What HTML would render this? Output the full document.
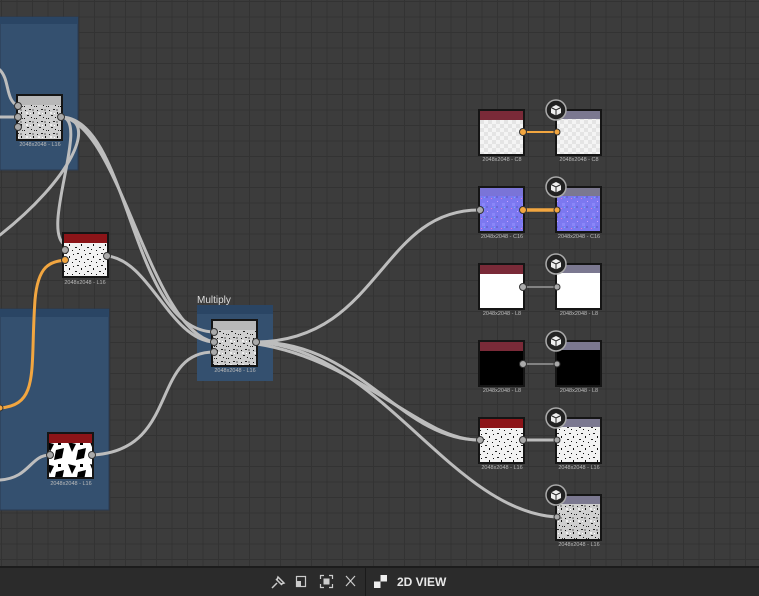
<!DOCTYPE html>
<html><head><meta charset="utf-8"><style>
html,body{margin:0;padding:0;width:759px;height:596px;overflow:hidden;background:#3b3b3b;font-family:"Liberation Sans",sans-serif}
#g{position:absolute;left:0;top:0;width:759px;height:566px;
background-color:#3c3c3c;
background-image:linear-gradient(to right,#333 1px,transparent 1px),linear-gradient(to bottom,#333 1px,transparent 1px);
background-size:15.5px 15.5px;background-position:1px 1px}
#bar{position:absolute;left:0;top:566px;width:759px;height:30px;background:#2b2b2b;border-top:2px solid #1c1c1c;box-sizing:border-box}
</style></head><body>
<div id="g"></div>
<svg width="759" height="566" style="position:absolute;left:0;top:0">
<defs>
<pattern id="noise" width="12" height="12" patternUnits="userSpaceOnUse">
<rect width="12" height="12" fill="#cfcfcf"/>
<rect x="1" y="2" width="1" height="1" fill="#111"/><rect x="5" y="1" width="2" height="1" fill="#222"/>
<rect x="9" y="4" width="1" height="2" fill="#111"/><rect x="3" y="7" width="2" height="1" fill="#222"/>
<rect x="7" y="9" width="1" height="1" fill="#111"/><rect x="10" y="10" width="1" height="1" fill="#333"/>
<rect x="0" y="10" width="1" height="1" fill="#111"/><rect x="6" y="5" width="1" height="1" fill="#fff"/>
<rect x="2" y="4" width="2" height="2" fill="#eee"/><rect x="8" y="1" width="2" height="2" fill="#999"/>
</pattern>
<pattern id="noisew" width="12" height="12" patternUnits="userSpaceOnUse">
<rect width="12" height="12" fill="#f2f2f2"/>
<rect x="1" y="2" width="1" height="1" fill="#111"/><rect x="5" y="1" width="2" height="1" fill="#222"/>
<rect x="9" y="4" width="1" height="2" fill="#111"/><rect x="3" y="7" width="2" height="1" fill="#222"/>
<rect x="7" y="9" width="1" height="1" fill="#111"/><rect x="0" y="10" width="1" height="1" fill="#111"/>
</pattern>
<pattern id="chk" width="8" height="8" patternUnits="userSpaceOnUse">
<rect width="8" height="8" fill="#f4f4f4"/><rect width="4" height="4" fill="#e4e4e4"/><rect x="4" y="4" width="4" height="4" fill="#e4e4e4"/>
</pattern>
<pattern id="nrm" width="10" height="10" patternUnits="userSpaceOnUse">
<rect width="10" height="10" fill="#7c78f0"/><rect x="2" y="3" width="3" height="3" fill="#8a86f8"/>
<rect x="6" y="6" width="2" height="2" fill="#6a66d8"/><rect x="7" y="1" width="1" height="1" fill="#c8a0ff"/>
<rect x="1" y="8" width="1" height="1" fill="#e080d0"/><rect x="4" y="7" width="1" height="1" fill="#60c0ff"/>
</pattern>
<pattern id="bw" width="22" height="22" patternUnits="userSpaceOnUse">
<rect width="22" height="22" fill="#fff"/><polygon points="2,2 10,4 6,12" fill="#000"/><polygon points="12,10 20,8 18,18 10,20" fill="#000"/><rect x="14" y="2" width="3" height="3" fill="#000"/>
</pattern>
</defs>
<!-- frames -->
<rect x="0" y="17" width="78" height="153" fill="#34506f" stroke="#2a3a50"/>
<rect x="0" y="17" width="78" height="7" fill="#2a4564"/>
<rect x="0" y="309" width="109" height="201" fill="#34506f" stroke="#2a3a50"/>
<rect x="0" y="309" width="109" height="8" fill="#2a4564"/>
<rect x="197" y="305" width="76" height="76" fill="#34506f"/>
<rect x="197" y="305" width="76" height="9" fill="#2a4564"/>
<text x="197" y="303" font-size="10" fill="#ddd">Multiply</text>
<!-- connections -->
<g fill="none" stroke="#bdbdbd" stroke-width="3" stroke-linecap="round">
<path d="M0,70 C10,80 5,100 18,106"/>
<path d="M0,117 L18,117"/>
<path d="M62,117 C100,120 70,180 0,235"/>
<path d="M62,117 C90,120 40,230 65,245"/>
<path d="M62,117 C130,120 130,330 214,332"/>
<path d="M62,117 C120,125 150,330 214,342"/>
<path d="M107,256 C150,260 170,340 214,342"/>
<path d="M93,455 C180,450 150,352 214,352"/>
<path d="M0,480 C30,478 30,455 50,455"/>
<path d="M257,342 C380,340 380,210 479,210"/>
<path d="M257,342 C360,342 400,440 479,440"/>
<path d="M257,342 C380,350 450,510 556,517"/>
<path d="M257,344 C360,360 420,440 479,440"/>
<path d="M523,440 L557,440"/>
</g>
<g fill="none" stroke="#999" stroke-width="1.5"><path d="M523,287 L557,287"/><path d="M523,364 L557,364"/></g>
<path d="M0,408 C40,405 30,370 35,300 C38,265 50,262 65,260" fill="none" stroke="#f2a640" stroke-width="3"/>
<path d="M523,132 L557,132" stroke="#f2a640" stroke-width="2"/>
<path d="M523,210 L557,210" stroke="#f2a640" stroke-width="3.5"/>
<!-- nodes -->
<g stroke="#151515" stroke-width="2">
<rect x="17" y="95" width="45" height="45" fill="url(#noise)"/>
<rect x="63" y="233" width="45" height="44" fill="url(#noisew)"/>
<rect x="48" y="433" width="45" height="45" fill="url(#bw)"/>
<rect x="212" y="320" width="45" height="46" fill="url(#noise)"/>
<rect x="479" y="110" width="45" height="45" fill="url(#chk)"/>
<rect x="556" y="110" width="45" height="45" fill="url(#chk)"/>
<rect x="479" y="187" width="45" height="45" fill="url(#nrm)"/>
<rect x="556" y="187" width="45" height="45" fill="url(#nrm)"/>
<rect x="479" y="264" width="45" height="45" fill="#fff"/>
<rect x="556" y="264" width="45" height="45" fill="#fff"/>
<rect x="479" y="341" width="45" height="45" fill="#000"/>
<rect x="556" y="341" width="45" height="45" fill="#000"/>
<rect x="479" y="418" width="45" height="45" fill="url(#noisew)"/>
<rect x="556" y="418" width="45" height="45" fill="url(#noisew)"/>
<rect x="556" y="495" width="45" height="45" fill="url(#noise)"/>
</g>
<g>
<rect x="18" y="96" width="43" height="9" fill="#b8b8b8"/>
<rect x="213" y="321" width="43" height="9" fill="#b8b8b8"/>
<rect x="64" y="234" width="43" height="9" fill="#8c1418"/>
<rect x="49" y="434" width="43" height="9" fill="#8c1418"/>
<rect x="480" y="419" width="43" height="9" fill="#8c1418"/>
<rect x="480" y="111" width="43" height="9" fill="#7a2a38"/>
<rect x="480" y="265" width="43" height="9" fill="#7a2a38"/>
<rect x="480" y="342" width="43" height="9" fill="#7a2a38"/>
<rect x="480" y="188" width="43" height="8" fill="#7a74d8"/>
<rect x="557" y="111" width="43" height="8" fill="#7b7890"/>
<rect x="557" y="188" width="43" height="8" fill="#7b7890"/>
<rect x="557" y="265" width="43" height="8" fill="#7b7890"/>
<rect x="557" y="342" width="43" height="8" fill="#7b7890"/>
<rect x="557" y="419" width="43" height="8" fill="#7b7890"/>
<rect x="557" y="496" width="43" height="8" fill="#7b7890"/>
</g>
<!-- ports -->
<g stroke="#333" stroke-width="1" fill="#aaa">
<circle cx="18" cy="106" r="3.5"/><circle cx="18" cy="117" r="3.5"/><circle cx="18" cy="127" r="3.5"/><circle cx="61" cy="117" r="3.5"/>
<circle cx="65" cy="250" r="3.5"/><circle cx="107" cy="256" r="3.5"/>
<circle cx="50" cy="455" r="3.5"/><circle cx="92" cy="455" r="3.5"/>
<circle cx="214" cy="332" r="3.5"/><circle cx="214" cy="342" r="3.5"/><circle cx="214" cy="352" r="3.5"/><circle cx="256" cy="342" r="3.5"/>
<circle cx="480" cy="210" r="3.5"/><circle cx="523" cy="287" r="3.5"/><circle cx="557" cy="287" r="3"/>
<circle cx="523" cy="364" r="3.5"/><circle cx="557" cy="364" r="3"/>
<circle cx="480" cy="440" r="3.5"/><circle cx="523" cy="440" r="3.5"/><circle cx="557" cy="440" r="3"/>
<circle cx="557" cy="517" r="3"/>
</g>
<g stroke="#333" fill="#f2a640">
<circle cx="65" cy="260" r="3.5"/><circle cx="0" cy="408" r="3"/>
<circle cx="523" cy="132" r="3.5"/><circle cx="557" cy="132" r="3"/>
<circle cx="523" cy="210" r="3.5"/><circle cx="557" cy="210" r="3"/>
</g>
<!-- cube icons -->
<g id="cubes">
<g transform="translate(556,110)"><circle r="10" fill="#222" stroke="#aaa" stroke-width="1.5"/><path d="M0,-5 L5,-2.5 L5,3 L0,5.5 L-5,3 L-5,-2.5Z" fill="#eee"/><path d="M-5,-2.5 L0,0 L5,-2.5 M0,0 L0,5.5" stroke="#222" fill="none"/></g>
<g transform="translate(556,187)"><circle r="10" fill="#222" stroke="#aaa" stroke-width="1.5"/><path d="M0,-5 L5,-2.5 L5,3 L0,5.5 L-5,3 L-5,-2.5Z" fill="#eee"/><path d="M-5,-2.5 L0,0 L5,-2.5 M0,0 L0,5.5" stroke="#222" fill="none"/></g>
<g transform="translate(556,264)"><circle r="10" fill="#222" stroke="#aaa" stroke-width="1.5"/><path d="M0,-5 L5,-2.5 L5,3 L0,5.5 L-5,3 L-5,-2.5Z" fill="#eee"/><path d="M-5,-2.5 L0,0 L5,-2.5 M0,0 L0,5.5" stroke="#222" fill="none"/></g>
<g transform="translate(556,341)"><circle r="10" fill="#222" stroke="#aaa" stroke-width="1.5"/><path d="M0,-5 L5,-2.5 L5,3 L0,5.5 L-5,3 L-5,-2.5Z" fill="#eee"/><path d="M-5,-2.5 L0,0 L5,-2.5 M0,0 L0,5.5" stroke="#222" fill="none"/></g>
<g transform="translate(556,418)"><circle r="10" fill="#222" stroke="#aaa" stroke-width="1.5"/><path d="M0,-5 L5,-2.5 L5,3 L0,5.5 L-5,3 L-5,-2.5Z" fill="#eee"/><path d="M-5,-2.5 L0,0 L5,-2.5 M0,0 L0,5.5" stroke="#222" fill="none"/></g>
<g transform="translate(556,495)"><circle r="10" fill="#222" stroke="#aaa" stroke-width="1.5"/><path d="M0,-5 L5,-2.5 L5,3 L0,5.5 L-5,3 L-5,-2.5Z" fill="#eee"/><path d="M-5,-2.5 L0,0 L5,-2.5 M0,0 L0,5.5" stroke="#222" fill="none"/></g>
</g>
<!-- labels -->
<g font-size="5.5" fill="#bbb" text-anchor="middle">
<text x="40" y="146">2048x2048 - L16</text>
<text x="85" y="284">2048x2048 - L16</text>
<text x="71" y="485">2048x2048 - L16</text>
<text x="235" y="372">2048x2048 - L16</text>
<text x="502" y="161">2048x2048 - C8</text><text x="579" y="161">2048x2048 - C8</text>
<text x="502" y="238">2048x2048 - C16</text><text x="579" y="238">2048x2048 - C16</text>
<text x="502" y="315">2048x2048 - L8</text><text x="579" y="315">2048x2048 - L8</text>
<text x="502" y="392">2048x2048 - L8</text><text x="579" y="392">2048x2048 - L8</text>
<text x="502" y="469">2048x2048 - L16</text><text x="579" y="469">2048x2048 - L16</text>
<text x="579" y="546">2048x2048 - L16</text>
</g>
</svg>
<div id="bar">
<svg width="759" height="28" style="position:absolute;left:0;top:0">
<g fill="#ccc" stroke="#ccc">
<path d="M272,20 L277,15 M276,11 L282,17 M278,9 L284,15 L281,16 L277,12Z" stroke-width="1.5" fill="none"/>
<rect x="296.5" y="8.5" width="9" height="10" fill="none" stroke-width="1.2"/><rect x="297" y="13" width="4" height="5" stroke="none"/>
<path d="M320.5,11 V7.5 H324 M329,7.5 H332.5 V11 M332.5,16 V19.5 H329 M324,19.5 H320.5 V16" fill="none" stroke-width="1.2"/>
<rect x="323.5" y="10.5" width="6" height="6" stroke="none"/>
<path d="M346,8 L355,18 M355,8 L346,18" stroke-width="1.2"/>
</g>
<rect x="365" y="0" width="1" height="28" fill="#1a1a1a"/>
<rect x="374" y="7" width="13" height="13" fill="#eee"/><rect x="374" y="7" width="6.5" height="6.5" fill="#2b2b2b"/><rect x="380.5" y="13.5" width="6.5" height="6.5" fill="#2b2b2b"/>
<text x="397" y="18" font-size="12" font-weight="bold" fill="#e8e8e8">2D VIEW</text>
</svg>
</div>
</body></html>
